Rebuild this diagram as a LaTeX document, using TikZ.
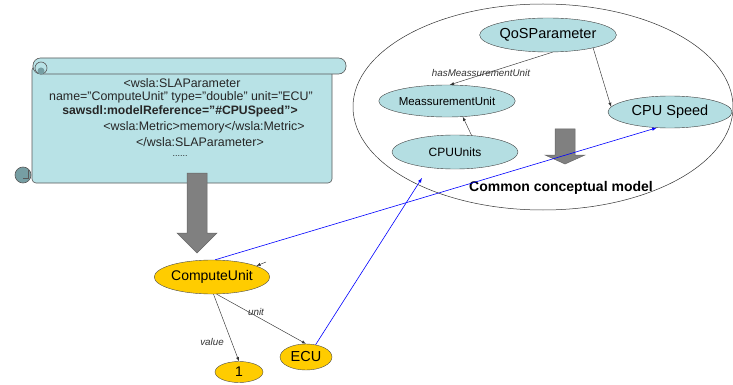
\documentclass[tikz,border=0pt]{standalone}
\usepackage{xcolor}
\usepackage{fontspec}
\setmainfont{Liberation Sans}
\usepackage{tikz}
\usetikzlibrary{shapes,arrows,positioning}
\definecolor{scrollblue}{RGB}{184,226,230}
\definecolor{scrolldark}{RGB}{118,158,163}
\definecolor{conceptblue}{RGB}{180,222,226}
\definecolor{unitgold}{RGB}{255,204,0}
\definecolor{arrowgray}{RGB}{128,128,128}
\newcommand{\setfs}[1]{\fontsize{#1}{#1}\selectfont}

\begin{document}
\begin{tikzpicture}[
            x=1pt, y=-1pt, >=latex,
            concept/.style={ellipse, draw=black!75, fill=conceptblue, inner sep=0pt, font=\setfs{14}},
            inst/.style={ellipse, draw=black!70, fill=unitgold, inner sep=0pt, font=\setfs{14}},
            xmlline/.style={inner sep=0pt, text=black!85, font=\setfs{12.4}},
            rel/.style={inner sep=0pt, text=black!80, font=\setfs{9.8}\itshape},
            link/.style={->, black!80, line width=0.45pt},
            bluelink/.style={->, blue, line width=0.6pt},
            scroll/.style={fill=scrollblue, draw=black!65, line width=0.6pt},
            bigarrow/.style={fill=arrowgray, draw=black!60, line width=0.5pt},
        ]
            \useasboundingbox (0,0) rectangle (733,385);

            % scroll with the annotated parameter
            \filldraw[scroll, rounded corners=4] (32,66) -- (32,183) -- (332,183) -- (332,66) -- cycle;
            \filldraw[scroll, rounded corners=7.5] (33,58) rectangle (346,74);
            \filldraw[scroll] (41,68) circle (6);
            \fill[scrolldark] (41,71) circle (3.5);
            \filldraw[fill=scrolldark, draw=black!65, line width=0.6pt] (23,175) circle (8);
            \draw[black!65, line width=0.6pt] (23,178) -- (28,178) -- (28,170);

            \node[xmlline] (l1) at (182,83) {<wsla:SLAParameter};
            \node[xmlline] (l2) at (181,97) {name="ComputeUnit" type="double" unit="ECU"};
            \node[xmlline, font=\setfs{12.2}\bfseries] (l3) at (180,111) {sawsdl:modelReference="\#CPUSpeed">};
            \node[xmlline] (l4) at (204,127) {<wsla:Metric>memory</wsla:Metric>};
            \node[xmlline] (l5) at (200,142) {</wsla:SLAParameter>};
            \node[xmlline, font=\setfs{9}] (l6) at (180,156) {......};

            \filldraw[bigarrow] (187,173) -- (187,233) -- (177,233) -- (197,253) -- (217,233) -- (207,233) -- (207,173) -- cycle;

            % common conceptual model
            \node[ellipse, draw=black!80, line width=0.5pt, minimum width=380, minimum height=206] (ccm) at (543,107) {};
            \node[concept, minimum width=124, minimum height=34, font=\setfs{14.5}] (qos) at (548,35) {QoSParameter};
            \node[concept, minimum width=124, minimum height=32, font=\setfs{11.5}] (meas) at (447,101) {MeassurementUnit};
            \node[concept, minimum width=126, minimum height=34, font=\setfs{12}] (cpuunits) at (455,152) {CPUUnits};
            \node[concept, minimum width=124, minimum height=32, font=\setfs{14.5}] (cpuspeed) at (670,112) {CPU Speed};
            \node[font=\setfs{14}\bfseries] (ccmlabel) at (561,188) {Common conceptual model};

            \draw[link] (qos.285) -- (meas.80);
            \draw[link] (qos.-16) -- (cpuspeed.175);
            \draw[link] (cpuunits.45) -- (meas.315);
            \node[rel] (hasunit) at (481,73) {hasMeassurementUnit};

            \filldraw[bigarrow] (555,129) -- (555,155) -- (545,155) -- (565,164) -- (585,155) -- (575,155) -- (575,129) -- cycle;

            % instance of the parameter
            \node[inst, minimum width=100, minimum height=34] (cu) at (212,277) {ComputeUnit};
            \node[inst, minimum width=48, minimum height=21] (one) at (239,372) {1};
            \node[inst, minimum width=52, minimum height=26, font=\setfs{14.5}] (ecu) at (306,357) {ECU};

            \coordinate (cutip) at (266,262);
            \draw[link] (cutip) -- (cu.14);
            \draw[link] (cu.275) -- (one.north);
            \draw[link] (cu.285) -- (ecu.north);
            \node[rel] (valuelbl) at (212,342) {value};
            \node[rel] (unitlbl) at (256,312) {unit};

            \coordinate (unitsend) at (422,178);
            \draw[bluelink] (cu.80) -- (cpuspeed.230);
            \draw[bluelink] (ecu.52) -- (unitsend);
        \end{tikzpicture}
\end{document}
